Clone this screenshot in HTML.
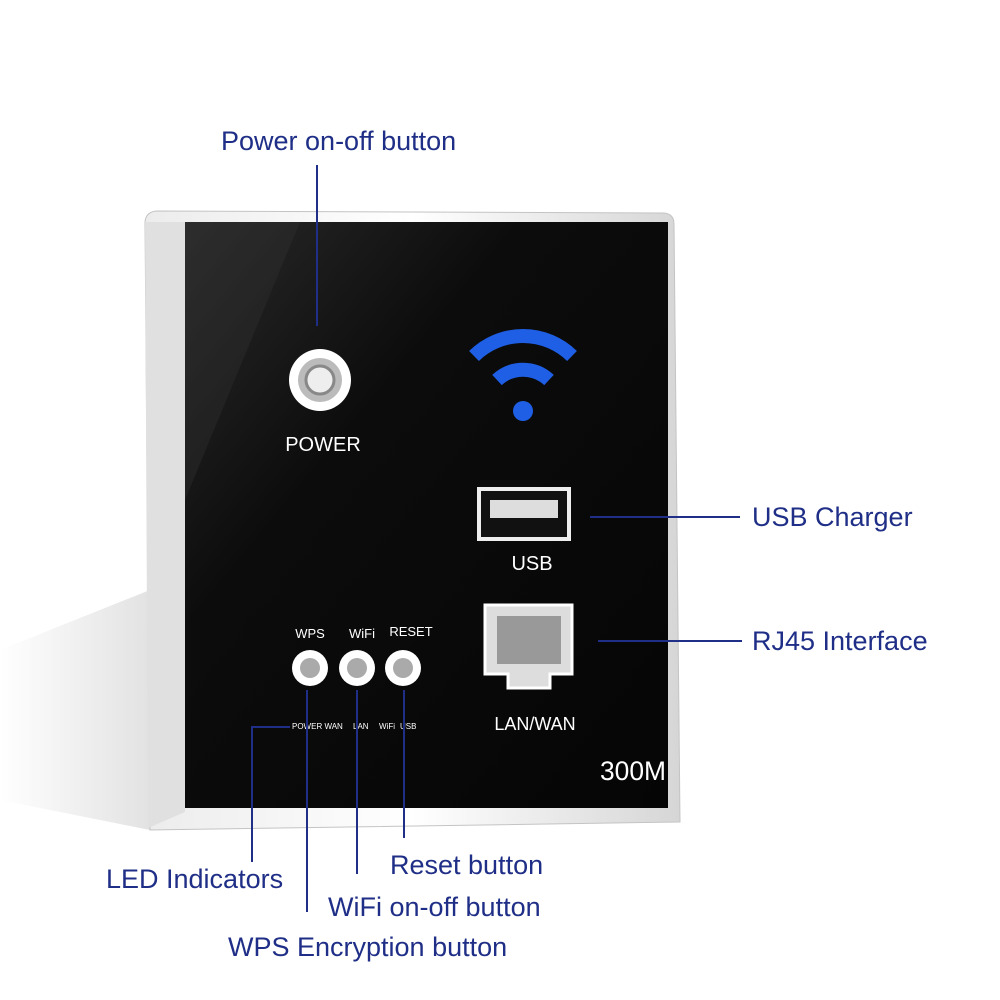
<!DOCTYPE html>
<html><head><meta charset="utf-8"><style>
html,body{margin:0;padding:0;background:#fff}
svg{display:block}
.lbl{font-family:"Liberation Sans",sans-serif;font-size:27px;fill:#1f2e86}
.w{font-family:"Liberation Sans",sans-serif;fill:#fff}
</style></head><body>
<svg width="1000" height="1000" viewBox="0 0 1000 1000" xmlns="http://www.w3.org/2000/svg">
<defs>
<linearGradient id="sh" x1="0" y1="0" x2="1" y2="0">
<stop offset="0" stop-color="#fff"/><stop offset="0.6" stop-color="#e2e2e2"/><stop offset="1" stop-color="#cfcfcf"/></linearGradient>
<linearGradient id="fr" x1="0" y1="0" x2="1" y2="0">
<stop offset="0" stop-color="#ececec"/><stop offset="0.5" stop-color="#ffffff"/><stop offset="1" stop-color="#d6d6d6"/></linearGradient>
<linearGradient id="bk" x1="0" y1="0" x2="1" y2="1">
<stop offset="0" stop-color="#2a2a2a"/><stop offset="0.35" stop-color="#0c0c0c"/><stop offset="1" stop-color="#050505"/></linearGradient>
</defs>
<polygon points="0,650 150,590 150,830 0,800" fill="url(#sh)" opacity="0.6"/>
<!-- frame -->
<path d="M158,211 L664,213 Q674,214 674,224 L680,822 L150,830 L145,222 Q146,211 158,211 Z" fill="url(#fr)" stroke="#c4c4c4"/>
<polygon points="145,222 185,222 185,812 148,828" fill="#e0e0e0"/>
<polygon points="185,222 668,222 668,808 185,808" fill="url(#bk)"/>
<polygon points="185,222 300,222 185,500" fill="#333" opacity="0.35"/>
<!-- power -->
<circle cx="320" cy="380" r="31" fill="#fff"/>
<circle cx="320" cy="380" r="22" fill="#bbb"/>
<circle cx="320" cy="380" r="14" fill="#eee" stroke="#888" stroke-width="3"/>
<text x="323" y="451" class="w" font-size="20" text-anchor="middle">POWER</text>
<!-- wifi -->
<g fill="none" stroke="#1e5fe6" stroke-width="14" stroke-linecap="butt">
<path d="M474,356 A70,70 0 0 1 572,356"/>
<path d="M497,380 A38,38 0 0 1 549,380"/>
</g>
<circle cx="523" cy="411" r="10" fill="#1e5fe6"/>
<!-- usb -->
<rect x="479" y="489" width="90" height="50" fill="#111" stroke="#eee" stroke-width="4"/>
<rect x="490" y="500" width="68" height="18" fill="#ddd"/>
<text x="532" y="570" class="w" font-size="20" text-anchor="middle">USB</text>
<!-- rj45 -->
<path d="M485,605 H572 V674 H550 V688 H508 V674 H485 Z" fill="#ddd" stroke="#fff" stroke-width="3"/>
<rect x="497" y="616" width="64" height="48" fill="#999"/>
<text x="535" y="730" class="w" font-size="18" text-anchor="middle">LAN/WAN</text>
<text x="633" y="780" class="w" font-size="27" text-anchor="middle" textLength="66" lengthAdjust="spacingAndGlyphs">300M</text>
<!-- buttons -->
<g class="w" font-size="13" text-anchor="middle">
<text x="310" y="638">WPS</text><text x="362" y="638">WiFi</text><text x="411" y="636">RESET</text>
</g>
<g>
<circle cx="310" cy="668" r="18" fill="#fff"/><circle cx="310" cy="668" r="10" fill="#aaa"/>
<circle cx="357" cy="668" r="18" fill="#fff"/><circle cx="357" cy="668" r="10" fill="#aaa"/>
<circle cx="403" cy="668" r="18" fill="#fff"/><circle cx="403" cy="668" r="10" fill="#aaa"/>
</g>
<g class="w" font-size="8">
<text x="292" y="729">POWER WAN</text><text x="353" y="729">LAN</text><text x="379" y="729">WiFi</text><text x="400" y="729">USB</text>
</g>
<!-- lines -->
<g stroke="#1f2e86" stroke-width="2" fill="none">
<line x1="317" y1="165" x2="317" y2="326"/>
<line x1="590" y1="517" x2="740" y2="517"/>
<line x1="598" y1="641" x2="742" y2="641"/>
<polyline points="290,727 252,727 252,862"/>
<line x1="307" y1="690" x2="307" y2="912"/>
<line x1="357" y1="690" x2="357" y2="874"/>
<line x1="404" y1="690" x2="404" y2="838"/>
</g>
<g class="lbl">
<text x="221" y="150">Power on-off button</text>
<text x="752" y="526">USB Charger</text>
<text x="752" y="650">RJ45 Interface</text>
<text x="106" y="888">LED Indicators</text>
<text x="390" y="874">Reset button</text>
<text x="328" y="916">WiFi on-off button</text>
<text x="228" y="956">WPS Encryption button</text>
</g>
</svg>
</body></html>
